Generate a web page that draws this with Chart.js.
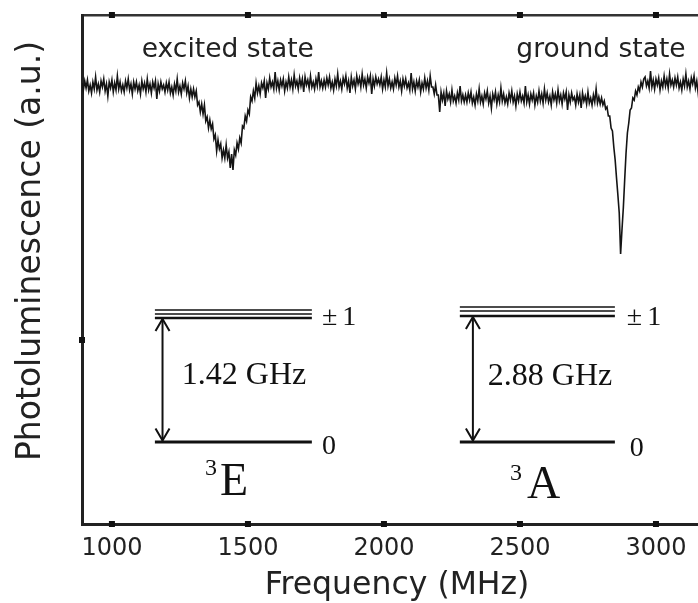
<!DOCTYPE html>
<html>
<head>
<meta charset="utf-8">
<script src="https://cdn.jsdelivr.net/npm/chart.js@4.4.1/dist/chart.umd.min.js"></script>
<style>
  html, body { margin: 0; padding: 0; background: #fff; overflow: hidden; }
  canvas { display: block; }
</style>
</head>
<body>
<canvas id="odmr" width="712" height="603"></canvas>
<script>
// sweep: 890 MHz upward in 5 MHz steps
const freqStart = 890;
const freqStep = 5;

// photoluminescence (a.u.), one value per sweep step
const pl = [
  // 890 - 1285
  1001, 997.5, 1002, 998.5, 1002.5, 997, 1000, 996, 1001.5, 998, 1004, 997.5, 1000.5, 996.5, 1002, 999, 1003, 997, 1000.5, 994.5,
  1001.5, 998.5, 1002.5, 996.5, 1001, 997.5, 1004.5, 998, 1001.5, 997, 1000, 996.5, 1002, 998.5, 1003, 997.5, 1000.5, 995.5, 1001.5, 998,
  1001.5, 997, 1000, 995.5, 1002, 998, 1001, 996.5, 1003, 997.5, 1000.5, 996, 1001.5, 998.5, 1002, 993, 1000.5, 997, 1001.5, 998,
  1000, 996.5, 1001, 997.5, 1001.5, 996, 999, 995, 1000.5, 997, 1003, 996.5, 999.5, 995.5, 1001, 998, 1002, 996, 999.5, 993.5,
  // 1290 - 1575 (excited state dip)
  998, 994, 998, 994, 997, 990, 991.5, 986.5, 990.5, 985.5,
  990, 982, 984, 978.5, 982.5, 978, 980.5, 973, 975, 967,
  972.5, 968, 970.5, 963.5, 967.5, 963.5, 970, 963.5, 966.5, 958.5,
  965.5, 957.5, 967.5, 965, 971, 968, 973.5, 971, 979.5, 978.5,
  984.5, 982, 987.5, 985.5, 994, 992, 997, 993.5, 1001, 996,
  999.5, 995.5, 1001, 998.5, 1002, 993.5, 1001, 998,
  // 1580 - 2195
  1003.5, 999, 1001.5, 998, 1006.5, 998.5, 1002, 997.5, 1002.5, 999.5, 1003, 997, 1001.5, 998.5, 1004, 999, 1002.5, 998, 1005, 999.5,
  1002, 998, 1003.5, 999.5, 1003, 996.5, 1004, 1000, 1002.5, 998.5, 1004.5, 999, 1001.5, 998, 1003, 999.5, 1006.5, 999, 1002, 998.5,
  1002.5, 999, 1003.5, 1000, 1004, 998.5, 1001.5, 997.5, 1003, 999.5, 1005.5, 999, 1002, 998, 1003.5, 1000.5, 1004.5, 998.5, 1002, 996,
  1004, 999.5, 1002.5, 998, 1004.5, 1000.5, 1003.5, 999, 1005.5, 1000, 1003, 998.5, 1004, 1001, 1004.5, 995.5, 1003, 999.5, 1004, 1000.5,
  1003, 1000, 1004, 998, 1002.5, 999, 1006, 999.5, 1003, 998.5, 1001.5, 998, 1003.5, 1000, 1004.5, 999, 1002, 997, 1003, 999.5,
  1003, 998.5, 1001, 997.5, 1006, 998, 1001.5, 997, 1002, 999, 1002.5, 996.5, 1001, 998, 1003.5, 998.5, 1002, 997.5, 1004.5, 999,
  999, 995.5, 1000, 995,
  // 2200 - 2795
  995, 986.5, 996.5, 992.5, 996, 989.5, 997, 993, 995.5, 991.5, 997.5, 992, 994.5, 991, 996, 992.5, 999.5, 992, 995, 991.5,
  995, 991.5, 996, 992.5, 996.5, 991, 994, 990, 995.5, 992, 998, 991.5, 994.5, 990.5, 996, 993, 997, 991, 994.5, 988.5,
  995.5, 992.5, 996.5, 990.5, 995, 991.5, 998.5, 992, 995.5, 991, 994, 990.5, 996, 992.5, 997, 991.5, 994.5, 989.5, 995.5, 992,
  996.5, 992, 994.5, 991, 999.5, 991.5, 995, 990.5, 995.5, 992.5, 996, 990, 994.5, 991.5, 997, 992, 995.5, 991, 998, 992.5,
  996, 991.5, 994.5, 990, 996.5, 992.5, 995.5, 991, 997.5, 992, 995, 990.5, 996, 993, 996.5, 987.5, 995, 991.5, 996, 992.5,
  994, 990, 995.5, 991.5, 995, 988.5, 996, 992, 994.5, 990.5, 996.5, 991, 993.5, 990, 995, 991.5, 998, 991, 994, 990.5,
  // 2800 - 2955 (ground state dip)
  993.5, 990, 992, 988, 989, 984.5, 984.5, 978.5, 977, 969,
  962.5, 953.5, 945, 936, 915.5, 927.5, 938.5, 952.5, 966, 976,
  981, 987.5, 988.5, 993.5, 992.5, 997, 995, 999, 997, 1001.5,
  999, 1003,
  // 2960 - 3160
  1004, 999.5, 1002, 998.5, 1007, 999, 1002.5, 998, 1003, 1000, 1003.5, 997.5, 1002, 999, 1004.5, 999.5, 1003, 998.5, 1005.5, 1000,
  1002.5, 999, 1003.5, 1000, 1004, 998.5, 1001.5, 997.5, 1003, 999.5, 1005.5, 999, 1002, 998, 1003.5, 1000.5, 1004.5, 998.5, 1002, 996,
  1002
];

const freq = pl.map((_, i) => freqStart + i * freqStep);

const xTicks = [1000, 1500, 2000, 2500, 3000];
const yTicks = [872.5];

const stateLabels = [
  { text: 'excited state', x: 1426 },
  { text: 'ground state', x: 2798 }
];
const stateLabelY = 1014;

// spin level diagrams, placed in data units
const levels = [
  { term: 'E', gap: '1.42 GHz', x0: 1158, x1: 1735, plus: [887.5, 885.5, 883.5], zero: 821.5,
    arrowX: 1186, gapX: 1257, gapY: 850.5, pmX: 1772, pmY: 880, zeroX: 1772, zeroY: 815.5,
    supX: 1342, supY: 805, termX: 1397, termY: 795 },
  { term: 'A', gap: '2.88 GHz', x0: 2279, x1: 2849, plus: [889, 887, 884.5], zero: 821.5,
    arrowX: 2327, gapX: 2382, gapY: 850, pmX: 2893, pmY: 880, zeroX: 2904, zeroY: 814.5,
    supX: 2463, supY: 802.5, termX: 2526, termY: 793.5 }
];

const diagram = {
  id: 'diagram',
  afterDraw(chart) {
    const { ctx, chartArea } = chart;
    const X = v => chart.scales.x.getPixelForValue(v);
    const Y = v => chart.scales.y.getPixelForValue(v);
    const seg = (x0, y0, x1, y1, w) => {
      ctx.lineWidth = w;
      ctx.beginPath();
      ctx.moveTo(x0, y0);
      ctx.lineTo(x1, y1);
      ctx.stroke();
    };
    ctx.save();

    // tick dots on the frame
    ctx.fillStyle = '#111';
    xTicks.forEach(v => {
      ctx.fillRect(X(v) - 3, chartArea.bottom - 3, 6, 6);
      ctx.fillRect(X(v) - 3, chartArea.top - 3, 6, 6);
    });
    yTicks.forEach(v => ctx.fillRect(chartArea.left - 3, Y(v) - 3, 6, 6));

    ctx.fillStyle = '#222';
    ctx.font = '26.5px "DejaVu Sans"';
    ctx.textAlign = 'center';
    ctx.textBaseline = 'alphabetic';
    stateLabels.forEach(s => ctx.fillText(s.text, X(s.x), Y(stateLabelY)));

    ctx.save();
    ctx.translate(31, 251);
    ctx.rotate(-Math.PI / 2);
    ctx.font = '33px "DejaVu Sans"';
    ctx.textBaseline = 'middle';
    ctx.fillText('Photoluminescence (a.u.)', 0, 0);
    ctx.restore();

    ctx.strokeStyle = '#111';
    ctx.fillStyle = '#111';
    levels.forEach(lv => {
      const last = lv.plus.length - 1;
      lv.plus.forEach((v, i) => seg(X(lv.x0), Y(v), X(lv.x1), Y(v), i === last ? 2.5 : 1.5));
      seg(X(lv.x0), Y(lv.zero), X(lv.x1), Y(lv.zero), 3);

      const ax = X(lv.arrowX), top = Y(lv.plus[last]) + 1, bot = Y(lv.zero) - 1.5;
      seg(ax, top, ax, bot, 2);
      ctx.lineWidth = 2;
      ctx.beginPath();
      ctx.moveTo(ax - 7, top + 12); ctx.lineTo(ax, top); ctx.lineTo(ax + 7, top + 12);
      ctx.moveTo(ax - 7, bot - 12); ctx.lineTo(ax, bot); ctx.lineTo(ax + 7, bot - 12);
      ctx.stroke();

      ctx.textAlign = 'left';
      ctx.font = '32px "Liberation Serif"';
      ctx.fillText(lv.gap, X(lv.gapX), Y(lv.gapY));
      ctx.font = '28px "Liberation Serif"';
      ctx.letterSpacing = '5px';
      ctx.fillText('±1', X(lv.pmX), Y(lv.pmY));
      ctx.letterSpacing = '0px';
      ctx.fillText('0', X(lv.zeroX), Y(lv.zeroY));
      ctx.font = '24px "Liberation Serif"';
      ctx.fillText('3', X(lv.supX), Y(lv.supY));
      ctx.font = '46px "Liberation Serif"';
      ctx.fillText(lv.term, X(lv.termX), Y(lv.termY));
    });
    ctx.restore();
  }
};

const frame = { display: true, width: 3, color: '#222' };
const xMin = 890, xMax = 3206;

new Chart(document.getElementById('odmr'), {
  type: 'line',
  data: {
    datasets: [{
      data: freq.map((f, i) => ({ x: f, y: pl[i] })),
      borderColor: '#141414',
      borderWidth: 1.6,
      pointRadius: 0,
      tension: 0
    }]
  },
  options: {
    responsive: false,
    animation: false,
    events: [],
    layout: { padding: 0 },
    plugins: { legend: { display: false }, tooltip: { enabled: false } },
    scales: {
      x: {
        type: 'linear',
        position: 'bottom',
        min: xMin,
        max: xMax,
        afterBuildTicks: s => { s.ticks = xTicks.map(v => ({ value: v })); },
        afterFit: s => { s.height = 79; },
        grid: { display: false, drawTicks: false },
        border: frame,
        ticks: {
          padding: 10,
          color: '#222',
          font: { family: 'DejaVu Sans', size: 24 },
          maxRotation: 0,
          callback: v => String(v)
        },
        title: {
          display: true,
          text: 'Frequency (MHz)',
          color: '#222',
          font: { family: 'DejaVu Sans', size: 31.5, lineHeight: 1 },
          padding: { top: 0, bottom: 1 }
        }
      },
      xTop: {
        type: 'linear',
        position: 'top',
        min: xMin,
        max: xMax,
        afterFit: s => { s.height = 15; },
        grid: { display: false, drawTicks: false },
        border: { display: true, width: 2.5, color: '#333' },
        ticks: { display: false }
      },
      y: {
        min: 780.5,
        max: 1035,
        afterBuildTicks: s => { s.ticks = yTicks.map(v => ({ value: v })); },
        afterFit: s => { s.width = 82; },
        grid: { display: false, drawTicks: false },
        border: frame,
        ticks: { display: false }
      }
    }
  },
  plugins: [diagram]
});
</script>
</body>
</html>
